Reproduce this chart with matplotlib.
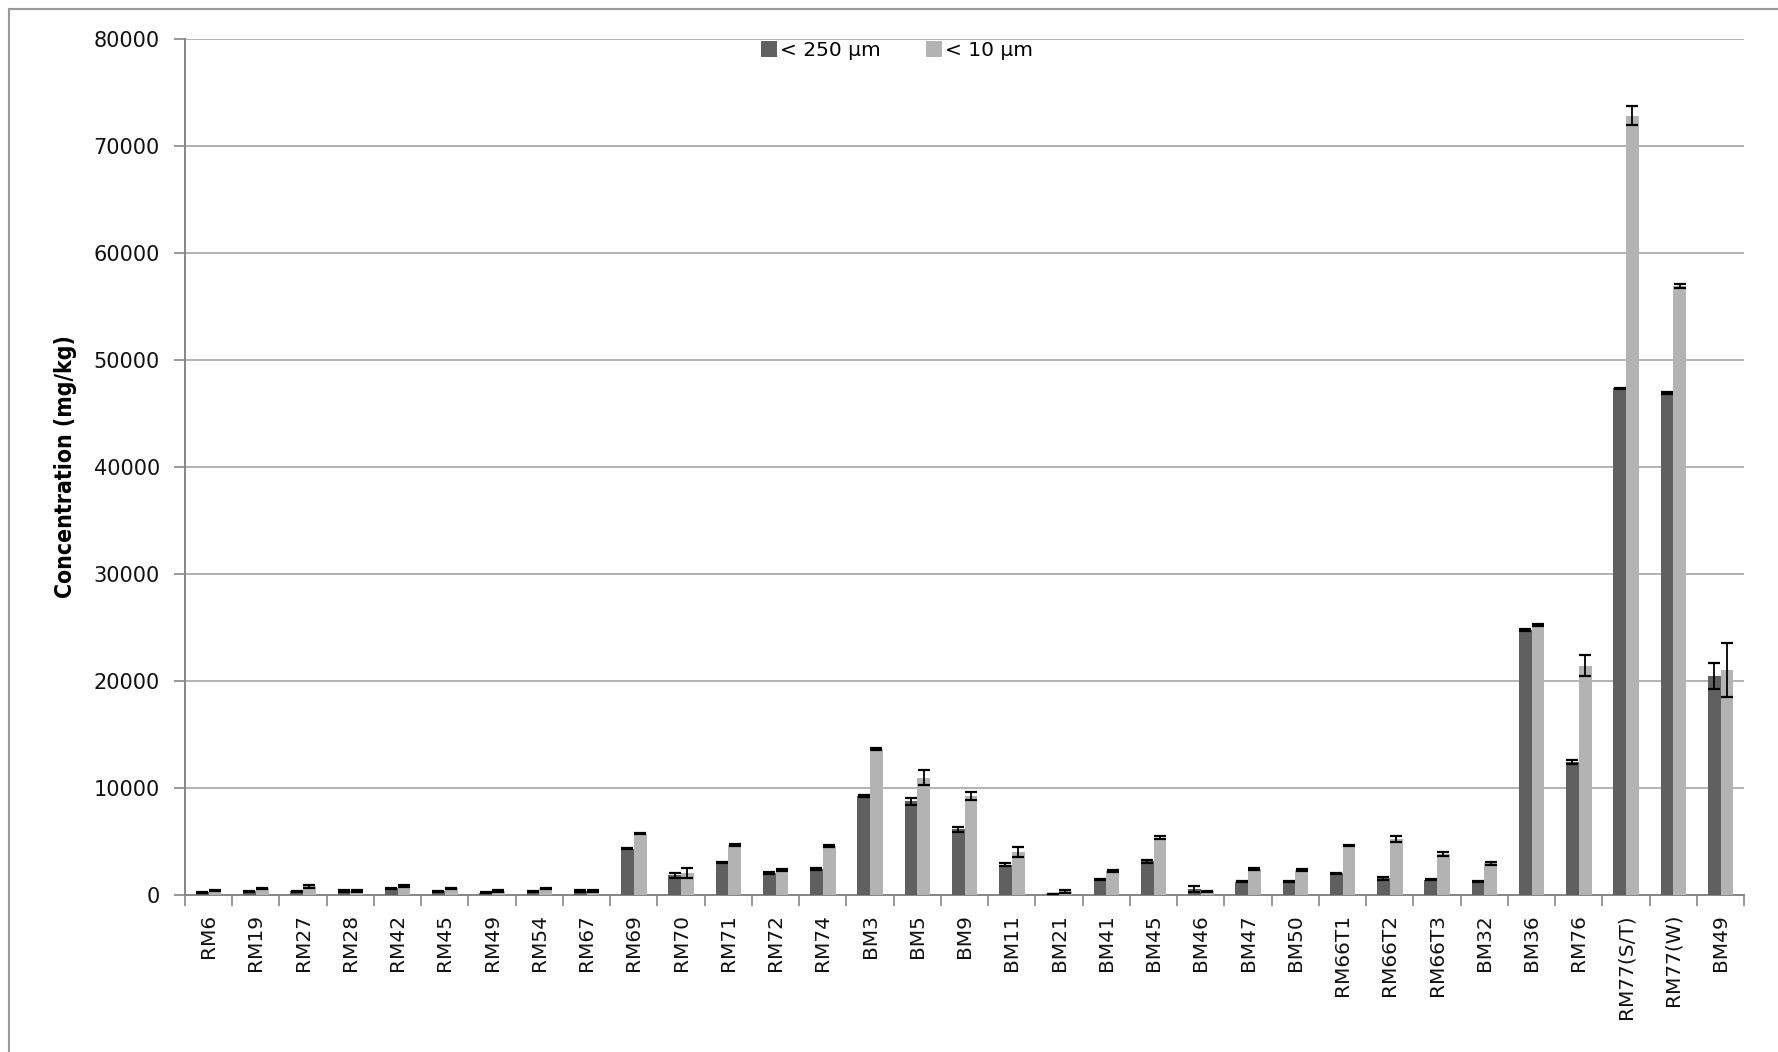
import numpy as np
import matplotlib
matplotlib.use('Agg')
import matplotlib.pyplot as plt
from matplotlib.patches import Rectangle

samples = ['RM6', 'RM19', 'RM27', 'RM28', 'RM42', 'RM45', 'RM49', 'RM54', 'RM67',
           'RM69', 'RM70', 'RM71', 'RM72', 'RM74', 'BM3', 'BM5', 'BM9', 'BM11',
           'BM21', 'BM41', 'BM45', 'BM46', 'BM47', 'BM50', 'RM66T1', 'RM66T2',
           'RM66T3', 'BM32', 'BM36', 'RM76', 'RM77(S/T)', 'RM77(W)', 'BM49']

# < 250 um fraction
coarse = [200, 320, 320, 330, 570, 320, 150, 320, 330,
          4300, 1800, 3000, 2000, 2400, 9200, 8700, 6100, 2800,
          50, 1400, 3100, 500, 1200, 1200, 2000, 1500,
          1400, 1200, 24700, 12400, 47300, 46900, 20400]
coarse_err = [50, 50, 50, 80, 60, 50, 50, 50, 50,
              80, 250, 80, 80, 80, 100, 300, 250, 120,
              0, 80, 150, 250, 50, 50, 50, 100,
              50, 60, 80, 200, 80, 80, 1200]

# < 10 um fraction
fine = [350, 570, 760, 330, 790, 570, 320, 570, 330,
        5700, 2000, 4600, 2300, 4500, 13600, 10900, 9200, 4000,
        300, 2200, 5300, 300, 2400, 2300, 4600, 5200,
        3800, 2900, 25200, 21400, 72800, 56900, 21000]
fine_err = [60, 80, 120, 60, 100, 80, 80, 80, 50,
            80, 500, 80, 120, 100, 80, 700, 400, 450,
            150, 80, 150, 60, 80, 120, 60, 250,
            200, 120, 120, 1000, 850, 200, 2500]

fig = plt.figure(figsize=(17.78, 10.52), dpi=100)
ax = fig.add_axes([0.104, 0.1497, 0.877, 0.8137])

x = np.arange(len(samples))
w = 0.27
err_kw = dict(ecolor='black', elinewidth=1.3, capsize=4.5, capthick=1.6)
ax.bar(x - w / 2, coarse, w, yerr=coarse_err, color='#606060',
       label='< 250 µm', error_kw=err_kw, zorder=3)
ax.bar(x + w / 2, fine, w, yerr=fine_err, color='#b3b3b3',
       label='< 10 µm', error_kw=err_kw, zorder=3)

ax.set_xlim(-0.5, len(samples) - 0.5)
ax.set_ylim(0, 80000)
ax.set_yticks(range(0, 80001, 10000))
ax.yaxis.grid(True, color='#a6a6a6', linewidth=1.2, zorder=0)
ax.set_axisbelow(True)

ax.set_xticks(x)
ax.set_xticklabels(samples, rotation=90, fontsize=14.5, color='#111111')
ax.set_xticks(np.arange(len(samples) + 1) - 0.5, minor=True)
ax.tick_params(axis='x', which='major', length=0, pad=14)
ax.tick_params(axis='x', which='minor', length=8, width=1.2, color='#868686',
               direction='out')
ax.tick_params(axis='y', length=8, width=1.2, color='#868686', pad=10,
               labelsize=15, labelcolor='#111111')

for s in ['top', 'right']:
    ax.spines[s].set_visible(False)
for s in ['left', 'bottom']:
    ax.spines[s].set_color('#868686')
    ax.spines[s].set_linewidth(1.4)

ax.set_ylabel('Concentration (mg/kg)', fontsize=16.5, fontweight='bold',
              fontstretch='condensed', family='DejaVu Sans', labelpad=12)

fig.legend(loc='center', bbox_to_anchor=(0.5045, 0.952), ncol=2, frameon=False,
           fontsize=14.5, handlelength=0.8, handleheight=0.8,
           handletextpad=0.15, columnspacing=2.2)

# outer frame of the chart area
fig.patches.append(Rectangle((9 / 1778, -0.5), 2.0, 0.5 + 1 - 9 / 1052,
                             transform=fig.transFigure, fill=False,
                             edgecolor='#9a9a9a', linewidth=1.5))

fig.savefig('out.png', dpi=100)
